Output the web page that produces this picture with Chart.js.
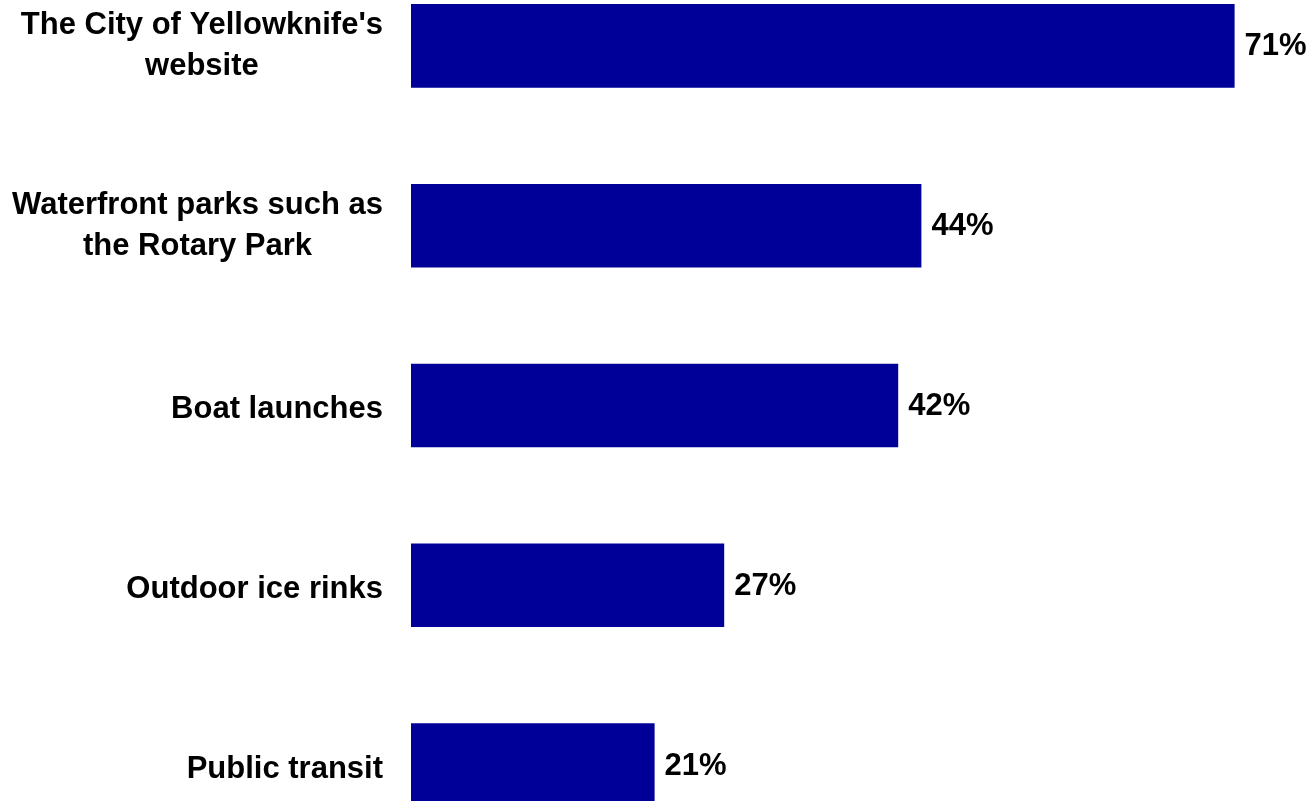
<!DOCTYPE html>
<html>
<head>
<meta charset="utf-8">
<script src="https://cdn.jsdelivr.net/npm/chart.js@4"></script>
<style>
  html, body { margin: 0; padding: 0; background: #fff; overflow: hidden; }
  #wrap { position: relative; width: 1312px; height: 801px; overflow: hidden; }
  #facilityChart { position: absolute; left: 0; top: -44px; }
</style>
</head>
<body>
<div id="wrap">
  <canvas id="facilityChart" width="1312" height="899"></canvas>
</div>
<script>
// categories (multi-line labels) and percentages
const categories = [
  ["The City of Yellowknife's", "website"],
  ["Waterfront parks such as", "the Rotary Park"],
  ["Boat launches"],
  ["Outdoor ice rinks"],
  ["Public transit"],
];
const percentValues = [71, 44, 42, 27, 21];

const barColor = "#000099";
const textFont = "bold 31px 'Liberation Sans', Arial, sans-serif";

// category labels: each block right-aligned to the label column,
// lines inside a block centred on each other
const categoryLabels = {
  id: "categoryLabels",
  afterDraw(chart) {
    const ctx = chart.ctx;
    const yScale = chart.scales.y;
    const rightEdge = yScale.right - 28;
    ctx.save();
    ctx.font = textFont;
    ctx.fillStyle = "#000";
    ctx.textAlign = "center";
    ctx.textBaseline = "middle";
    categories.forEach((lines, i) => {
      const y = yScale.getPixelForTick(i);
      const widest = Math.max(...lines.map((l) => ctx.measureText(l).width));
      const cx = rightEdge - widest / 2;
      if (lines.length === 1) {
        ctx.fillText(lines[0], cx, y + 4);
      } else {
        ctx.fillText(lines[0], cx, y - 20);
        ctx.fillText(lines[1], cx, y + 21);
      }
    });
    ctx.restore();
  },
};

// writes "NN%" just past the end of each bar
const valueLabels = {
  id: "valueLabels",
  afterDatasetsDraw(chart) {
    const ctx = chart.ctx;
    const meta = chart.getDatasetMeta(0);
    ctx.save();
    ctx.font = textFont;
    ctx.fillStyle = "#000";
    ctx.textAlign = "left";
    ctx.textBaseline = "middle";
    meta.data.forEach((bar, i) => {
      ctx.fillText(percentValues[i] + "%", bar.x + 10, bar.y + 1);
    });
    ctx.restore();
  },
};

new Chart(document.getElementById("facilityChart").getContext("2d"), {
  type: "bar",
  data: {
    labels: categories,
    datasets: [
      {
        data: percentValues,
        backgroundColor: barColor,
        borderWidth: 0,
        categoryPercentage: 1,
        barPercentage: 0.465,
      },
    ],
  },
  options: {
    indexAxis: "y",
    responsive: false,
    animation: false,
    devicePixelRatio: 1,
    layout: { padding: { left: 0, right: 2, top: 0, bottom: 0 } },
    plugins: {
      legend: { display: false },
      tooltip: { enabled: false },
    },
    scales: {
      x: {
        display: false,
        min: 0,
        max: 77.5,
      },
      y: {
        grid: { display: false, drawTicks: false },
        border: { display: false },
        ticks: { display: false },
        afterFit(scale) {
          // fixed label column; no extra room above/below the bands
          scale.width = 411;
          scale.paddingTop = 0;
          scale.paddingBottom = 0;
        },
      },
    },
  },
  plugins: [valueLabels, categoryLabels],
});
</script>
</body>
</html>
